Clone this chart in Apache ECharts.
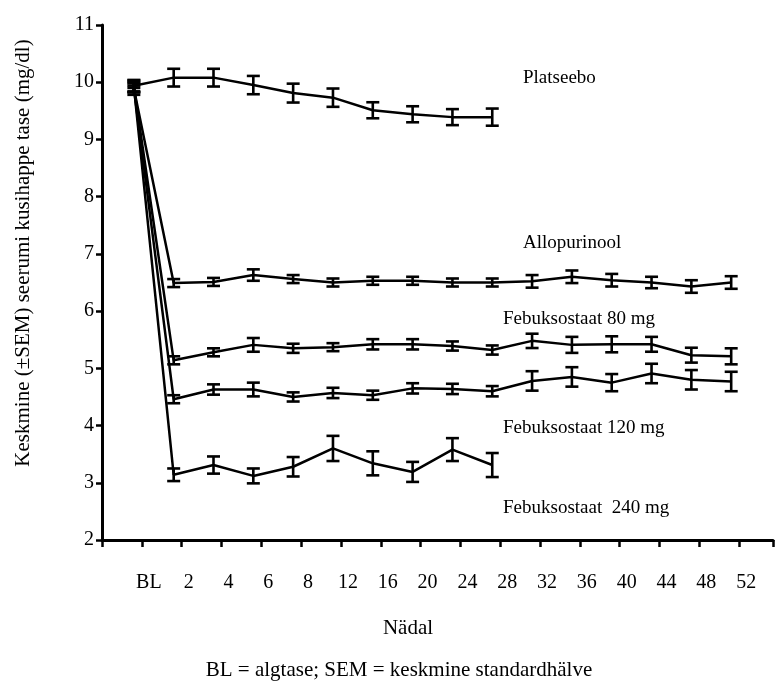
<!DOCTYPE html>
<html>
<head>
<meta charset="utf-8">
<script src="https://cdn.jsdelivr.net/npm/echarts@6/dist/echarts.min.js"></script>
<style>
html,body{margin:0;padding:0;background:#fff;}
#chart{width:776px;height:683px;}
</style>
</head>
<body>
<div id="chart"></div>
<script>
// Week categories (index = x position)
const categories = ['BL','2','4','6','8','12','16','20','24','28','32','36','40','44','48','52'];

// Means and SEM (mg/dl)
const placebo     = [9.94, 10.08, 10.08, 9.95, 9.81, 9.73, 9.51, 9.44, 9.39, 9.39];
const placeboSem  = [0.10, 0.155, 0.155, 0.16, 0.165, 0.16, 0.14, 0.14, 0.14, 0.15];

const allopurinol    = [9.89, 6.49, 6.51, 6.63, 6.56, 6.50, 6.53, 6.53, 6.50, 6.50, 6.52, 6.60, 6.54, 6.50, 6.43, 6.50];
const allopurinolSem = [0.11, 0.07, 0.07, 0.10, 0.07, 0.07, 0.07, 0.07, 0.07, 0.07, 0.11, 0.11, 0.11, 0.10, 0.11, 0.11];

const febu80    = [9.92, 5.14, 5.28, 5.41, 5.35, 5.37, 5.42, 5.42, 5.39, 5.32, 5.48, 5.41, 5.42, 5.42, 5.23, 5.21];
const febu80Sem = [0.02, 0.07, 0.07, 0.12, 0.08, 0.07, 0.09, 0.09, 0.08, 0.08, 0.125, 0.14, 0.14, 0.13, 0.13, 0.14];

const febu120    = [9.90, 4.46, 4.63, 4.63, 4.50, 4.57, 4.53, 4.65, 4.64, 4.60, 4.78, 4.85, 4.75, 4.91, 4.80, 4.77];
const febu120Sem = [0.08, 0.07, 0.09, 0.12, 0.08, 0.09, 0.08, 0.09, 0.09, 0.09, 0.17, 0.17, 0.15, 0.17, 0.17, 0.17];

const febu240    = [9.93, 3.14, 3.31, 3.12, 3.28, 3.60, 3.34, 3.19, 3.58, 3.31];
const febu240Sem = [0.10, 0.11, 0.15, 0.13, 0.17, 0.22, 0.21, 0.175, 0.20, 0.21];

const yTicks = [2,3,4,5,6,7,8,9,10,11];

const FONT = "'Liberation Serif','Times New Roman',serif";

const groups = [
  {name:'Platseebo', v:placebo, e:placeboSem},
  {name:'Allopurinool', v:allopurinol, e:allopurinolSem},
  {name:'Febuksostaat 80 mg', v:febu80, e:febu80Sem},
  {name:'Febuksostaat 120 mg', v:febu120, e:febu120Sem},
  {name:'Febuksostaat 240 mg', v:febu240, e:febu240Sem}
];

function errRender(params, api){
  const x = api.value(0), y = api.value(1), e = api.value(2);
  const t = api.coord([x, y + e]);
  const b = api.coord([x, y - e]);
  const hw = 6.5;
  const st = {stroke:'#000', lineWidth:2.6};
  return {type:'group', children:[
    {type:'line', shape:{x1:t[0], y1:t[1], x2:b[0], y2:b[1]}, style:st},
    {type:'line', shape:{x1:t[0]-hw, y1:t[1], x2:t[0]+hw, y2:t[1]}, style:st},
    {type:'line', shape:{x1:b[0]-hw, y1:b[1], x2:b[0]+hw, y2:b[1]}, style:st}
  ]};
}

const series = [];
groups.forEach(g => {
  series.push({
    type:'line', name:g.name, data:g.v.map((v,i)=>[i,v]),
    symbol:'none', lineStyle:{color:'#000', width:2.5}, z:2, silent:true
  });
  series.push({
    type:'custom', name:g.name+' SEM', data:g.v.map((v,i)=>[i,v,g.e[i]]),
    renderItem:errRender, z:3, silent:true
  });
});

const chart = echarts.init(document.getElementById('chart'), null, {renderer:'canvas'});
chart.setOption({
  animation:false,
  backgroundColor:'#fff',
  grid:{left:102, right:0, top:25, bottom:143, containLabel:false},
  xAxis:{
    type:'value', min:-0.8, max:16.05, interval:1,
    axisLine:{show:true, onZero:false, lineStyle:{color:'#000', width:3}},
    axisTick:{show:true, length:7, lineStyle:{color:'#000', width:2.5}},
    splitLine:{show:false},
    axisLabel:{
      margin:33, fontSize:20, color:'#000', fontFamily:FONT, padding:[0,0,0,14],
      formatter:function(v){
        const k = Math.round(v - 0.2);
        if (Math.abs(v - 0.2 - k) > 0.01 || k < 0 || k >= categories.length) return '';
        return categories[k];
      }
    }
  },
  yAxis:{
    type:'value', min:yTicks[0], max:yTicks[yTicks.length-1], interval:1,
    axisLine:{show:true, onZero:false, lineStyle:{color:'#000', width:3}},
    axisTick:{show:true, length:6, lineStyle:{color:'#000', width:2.5}},
    splitLine:{show:false},
    axisLabel:{margin:8, fontSize:20, color:'#000', fontFamily:FONT}
  },
  graphic:[
    {type:'text', x:23, y:253, rotation:Math.PI/2,
     style:{text:'Keskmine (±SEM) seerumi kusihappe tase (mg/dl)', fontSize:21, fontFamily:FONT, fill:'#000', align:'center', verticalAlign:'middle'}},
    {type:'text', x:408, y:628,
     style:{text:'Nädal', fontSize:21, fontFamily:FONT, fill:'#000', align:'center', verticalAlign:'middle'}},
    {type:'text', x:399, y:670,
     style:{text:'BL = algtase; SEM = keskmine standardhälve', fontSize:21, fontFamily:FONT, fill:'#000', align:'center', verticalAlign:'middle'}},
    {type:'text', x:523, y:78,
     style:{text:'Platseebo', fontSize:19, fontFamily:FONT, fill:'#000', align:'left', verticalAlign:'middle'}},
    {type:'text', x:523, y:243,
     style:{text:'Allopurinool', fontSize:19, fontFamily:FONT, fill:'#000', align:'left', verticalAlign:'middle'}},
    {type:'text', x:503, y:319,
     style:{text:'Febuksostaat 80 mg', fontSize:19, fontFamily:FONT, fill:'#000', align:'left', verticalAlign:'middle'}},
    {type:'text', x:503, y:428,
     style:{text:'Febuksostaat 120 mg', fontSize:19, fontFamily:FONT, fill:'#000', align:'left', verticalAlign:'middle'}},
    {type:'text', x:503, y:508,
     style:{text:'Febuksostaat  240 mg', fontSize:19, fontFamily:FONT, fill:'#000', align:'left', verticalAlign:'middle'}}
  ],
  series:series
});
</script>
</body>
</html>
